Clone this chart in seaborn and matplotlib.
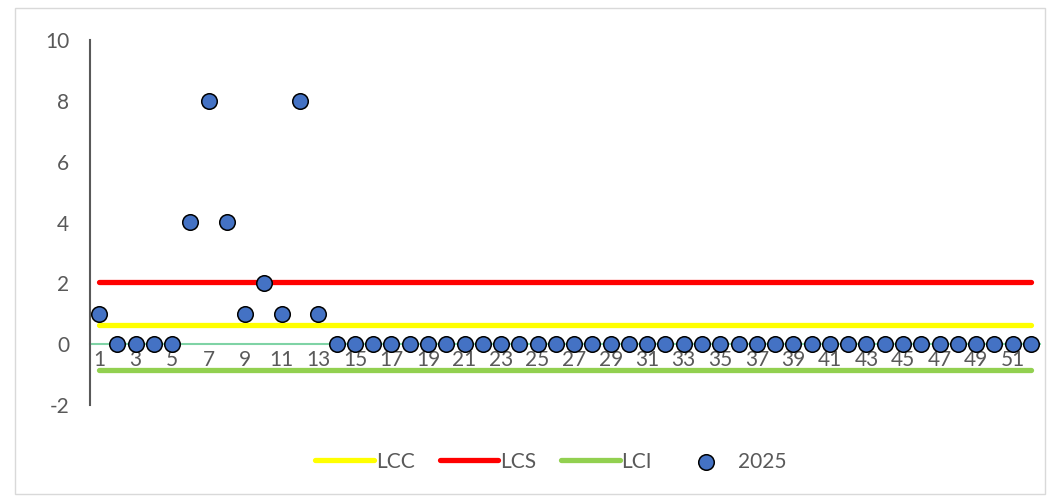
import matplotlib
matplotlib.use("Agg")
import matplotlib.pyplot as plt
import seaborn as sns
from matplotlib.patches import Rectangle

# weekly counts and control limits
weeks = list(range(1, 53))
casos_2025 = [1, 0, 0, 0, 0, 4, 8, 4, 1, 2, 1, 8, 1] + [0] * 39
lcc_val = 0.62
lcs_val = 2.05
lci_val = -0.85
x_tick_labels = [str(w) for w in range(1, 52, 2)]
y_ticks = [-2, 0, 2, 4, 6, 8, 10]

sns.set_theme(style="white")
plt.rcParams['font.family'] = ['Lato', 'DejaVu Sans']
plt.rcParams['axes.unicode_minus'] = False

fig = plt.figure(figsize=(10.48, 4.98), dpi=100)
ax = fig.add_axes([90 / 1048, 1 - 405 / 498, 950 / 1048, 365 / 498])

fig.patches.append(Rectangle((15 / 1048, 4 / 498), 1030 / 1048, 486 / 498,
                             transform=fig.transFigure, fill=False,
                             edgecolor="#d9d9d9", linewidth=1))

sns.lineplot(x=weeks, y=[lcc_val] * len(weeks), color="#ffff00", linewidth=3.8,
             label="LCC", ax=ax, solid_capstyle="round")
sns.lineplot(x=weeks, y=[lcs_val] * len(weeks), color="#ff0000", linewidth=3.8,
             label="LCS", ax=ax, solid_capstyle="round")
sns.lineplot(x=weeks, y=[lci_val] * len(weeks), color="#92d050", linewidth=3.8,
             label="LCI", ax=ax, solid_capstyle="round")
sns.scatterplot(x=weeks, y=casos_2025, color="#4472c4", edgecolor="black",
                linewidth=1.1, s=125, label="2025", ax=ax, zorder=5)

ax.set_xlim(0.5, 52.5)
ax.set_ylim(-2, 10)
ax.set_yticks(y_ticks)
ax.set_xticks(range(1, 52, 2))
ax.set_xticklabels(x_tick_labels)

for s in ["top", "right"]:
    ax.spines[s].set_visible(False)
ax.spines["left"].set_color("#595959")
ax.spines["left"].set_linewidth(1.5)
ax.spines["bottom"].set_position(("data", 0))
ax.spines["bottom"].set_color("#7fd3a5")
ax.spines["bottom"].set_linewidth(1.5)
ax.spines["bottom"].set_zorder(1)

ax.tick_params(axis="y", length=0, pad=15, labelsize=15, labelcolor="#595959")
ax.tick_params(axis="x", length=0, pad=4, labelsize=15, labelcolor="#595959")
ax.grid(False)

ax.legend(loc="center", bbox_to_anchor=(0.485, -0.155), ncol=4,
          frameon=False, fontsize=15, handlelength=2.8, columnspacing=1.2,
          handletextpad=0.1, labelcolor="#595959")

fig.savefig("out.png", dpi=100)
